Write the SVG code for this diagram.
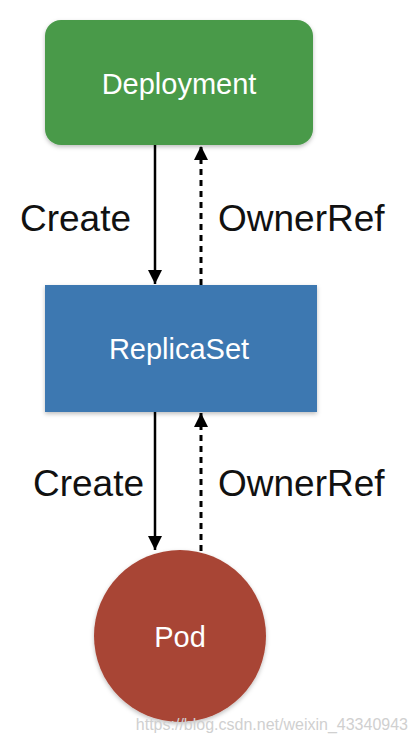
<svg xmlns="http://www.w3.org/2000/svg" width="416" height="744" viewBox="0 0 416 744">
<defs>
<style>
.node-text{font-family:"Liberation Sans",Arial,sans-serif;fill:#ffffff;text-anchor:middle;font-size:29px}
.label{font-family:"Liberation Sans",Arial,sans-serif;fill:#111111;font-size:37px}
.solid{stroke:#000;stroke-width:2.5;fill:none}
.dashed{stroke:#000;stroke-width:3;fill:none;stroke-dasharray:6 5}
</style>
<marker id="ah" viewBox="0 0 10 10" refX="10" refY="5" markerWidth="14" markerHeight="14" markerUnits="userSpaceOnUse" orient="auto">
<path d="M0,0 L10,5 L0,10 z" fill="#000"/>
</marker>
<filter id="sh" x="-10%" y="-10%" width="120%" height="130%">
<feDropShadow dx="0" dy="2" stdDeviation="2" flood-color="#000" flood-opacity="0.25"/>
</filter>
</defs>
<rect width="416" height="744" fill="#ffffff"/>
<g id="connectors">
<line class="solid" x1="155" y1="145" x2="155" y2="284" marker-end="url(#ah)"/>
<line class="dashed" x1="201" y1="285" x2="201" y2="146" marker-end="url(#ah)"/>
<line class="solid" x1="155" y1="412" x2="155" y2="550" marker-end="url(#ah)"/>
<line class="dashed" x1="201" y1="551" x2="201" y2="413" marker-end="url(#ah)"/>
<text class="label" x="20" y="231">Create</text>
<text class="label" x="218" y="231">OwnerRef</text>
<text class="label" x="33" y="496">Create</text>
<text class="label" x="218" y="496">OwnerRef</text>
</g>
<g id="deployment">
<rect x="45" y="20" width="268" height="125" rx="16" fill="#4a9a4a" filter="url(#sh)"/>
<text class="node-text" x="179" y="94">Deployment</text>
</g>
<g id="replicaset">
<rect x="45" y="285" width="272" height="127" fill="#3e78b1" filter="url(#sh)"/>
<text class="node-text" x="179" y="359">ReplicaSet</text>
</g>
<g id="pod">
<circle cx="180" cy="636" r="86" fill="#a84434" filter="url(#sh)"/>
<text class="node-text" x="180" y="647">Pod</text>
</g>
<text x="408" y="730" text-anchor="end" font-family="Liberation Sans,Arial,sans-serif" font-size="16" fill="#d0d0d0">https://blog.csdn.net/weixin_43340943</text>
</svg>
